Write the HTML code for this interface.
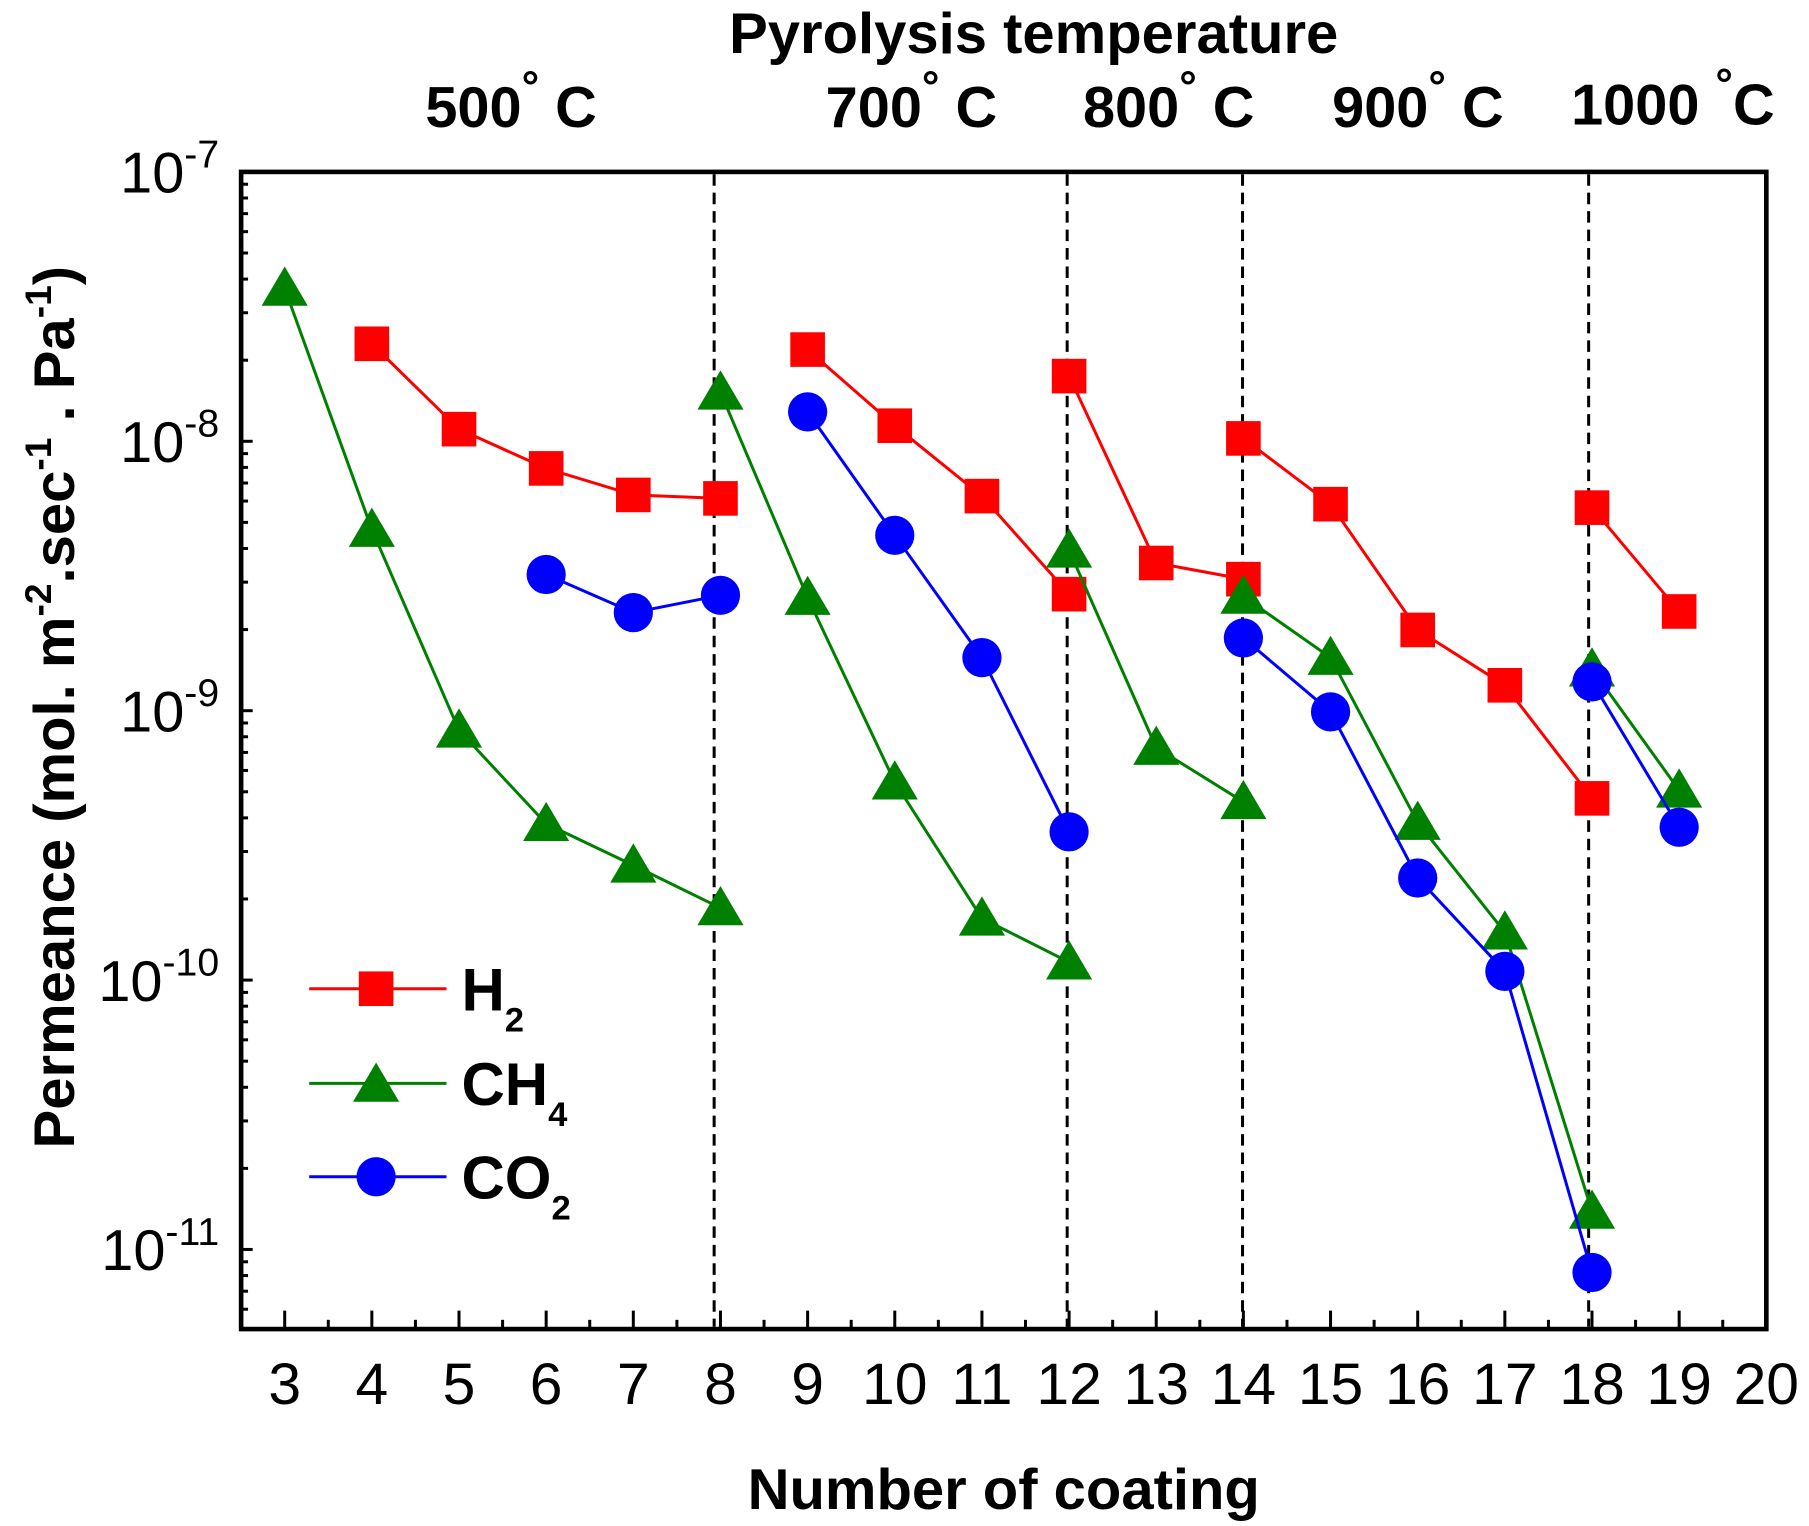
<!DOCTYPE html>
<html><head><meta charset="utf-8"><style>html,body{margin:0;padding:0;background:#fff}svg{display:block}</style></head>
<body>
<svg width="1809" height="1526" viewBox="0 0 1568 1322.7" preserveAspectRatio="none" xmlns="http://www.w3.org/2000/svg" font-family="Liberation Sans, Arial, sans-serif">
<g id="ticks" stroke="#000" stroke-width="2.6" fill="none"></g>
<g stroke="#000" stroke-width="2.6" stroke-dasharray="10,6">
<line x1="619" y1="151" x2="619" y2="1150"/>
<line x1="925" y1="151" x2="925" y2="1150"/>
<line x1="1077" y1="151" x2="1077" y2="1150"/>
<line x1="1377" y1="151" x2="1377" y2="1150"/>
</g>
<g id="series"></g>
<rect x="209" y="149" width="1322" height="1003" fill="none" stroke="#000" stroke-width="4"/>
<g font-size="51" text-anchor="middle" id="xl"></g>
<g font-size="50" text-anchor="end" id="yl"></g>
<g font-weight="bold" font-size="50" text-anchor="middle">
<text x="896" y="46" textLength="528" lengthAdjust="spacingAndGlyphs">Pyrolysis temperature</text>
<text x="443" y="110">500<tspan font-size="38" dy="-22">°</tspan><tspan dy="22"> C</tspan></text>
<text x="790" y="110">700<tspan font-size="38" dy="-22">°</tspan><tspan dy="22"> C</tspan></text>
<text x="1013" y="110">800<tspan font-size="38" dy="-22">°</tspan><tspan dy="22"> C</tspan></text>
<text x="1229" y="110">900<tspan font-size="38" dy="-22">°</tspan><tspan dy="22"> C</tspan></text>
<text x="1450" y="108">1000 <tspan font-size="38" dy="-22">°</tspan><tspan dy="22">C</tspan></text>
<text x="870" y="1308" textLength="444" lengthAdjust="spacingAndGlyphs">Number of coating</text>
<text transform="translate(64,613) rotate(-90)" textLength="765" lengthAdjust="spacingAndGlyphs">Permeance (mol. m<tspan font-size="32" dy="-20">-2</tspan><tspan dy="20">.sec</tspan><tspan font-size="32" dy="-20">-1</tspan><tspan dy="20"> . Pa</tspan><tspan font-size="32" dy="-20">-1</tspan><tspan dy="20">)</tspan></text>
</g>
<g>
<line x1="268" y1="857" x2="387" y2="857" stroke="#f00" stroke-width="2.6"/>
<rect x="311" y="842" width="30" height="30" fill="#f00"/>
<line x1="268" y1="939" x2="387" y2="939" stroke="#008000" stroke-width="2.6"/>
<polygon points="326,921 346,955 306,955" fill="#008000"/>
<line x1="268" y1="1020" x2="387" y2="1020" stroke="#00f" stroke-width="2.6"/>
<circle cx="326" cy="1020" r="17" fill="#00f"/>
<g font-weight="bold" font-size="52">
<text x="400" y="876">H<tspan font-size="30" dy="18">2</tspan></text>
<text x="400" y="958">CH<tspan font-size="30" dy="18">4</tspan></text>
<text x="400" y="1039">CO<tspan font-size="30" dy="18">2</tspan></text>
</g>
</g>
<script>
var NS="http://www.w3.org/2000/svg";
function X(n){return 209+(n-2.5)*75.543;}
function el(p,t,a,txt){var e=document.createElementNS(NS,t);for(var k in a)e.setAttribute(k,a[k]);if(txt!==undefined)e.textContent=txt;p.appendChild(e);return e;}
var tk=document.getElementById('ticks');
for(var n=3;n<=19.6;n+=0.5){var maj=(n%1===0);el(tk,'line',{x1:X(n),x2:X(n),y1:1152,y2:1152-(maj?16:8)});}
var xl=document.getElementById('xl');
for(var n=3;n<=20;n++){el(xl,'text',{x:X(n),y:1217},String(n));}
var yl=document.getElementById('yl');
for(var e=-7;e>=-12;e--){
 for(var m=1;m<10;m++){var y=149+(-7-(e+Math.log10(m)))*233.5; if(y<149||y>1152)continue;
  el(tk,'line',{x1:209,x2:209+(m==1?10:6),y1:y,y2:y});}
}
for(var e=-7;e>=-11;e--){var y=149+(-7-e)*233.5;var t=el(yl,'text',{x:190,y:y+18},'10');
 el(t,'tspan',{'font-size':'34',dy:'-22'},String(e));}
var ser=document.getElementById('series');
var H=[[[4,298],[5,372],[6,406],[7,429],[8,432]],[[9,303],[10,369],[11,430],[12,515]],[[12,326],[13,488],[14,502]],[[14,380],[15,437],[16,546],[17,594],[18,692]],[[18,440],[19,530]]];
var C=[[[3,250],[4,459],[5,633],[6,714],[7,750],[8,787]],[[8,340],[9,518],[10,678],[11,796],[12,834]],[[12,477],[13,648],[14,695]],[[14,517],[15,570],[16,713],[17,808],[18,1050]],[[18,580],[19,685]]];
var O=[[[6,498],[7,531],[8,516]],[[9,357],[10,464],[11,570],[12,721]],[[14,553],[15,617],[16,761],[17,842],[18,1103]],[[18,591],[19,717]]];
function draw(d,col,mk){d.forEach(function(s){el(ser,'polyline',{points:s.map(function(p){return X(p[0])+','+p[1];}).join(' '),fill:'none',stroke:col,'stroke-width':2.6});});
 d.forEach(function(s){s.forEach(function(p){var x=X(p[0]),y=p[1];
  if(mk=='s')el(ser,'rect',{x:x-15,y:y-15,width:30,height:30,fill:col});
  else if(mk=='t')el(ser,'polygon',{points:(x)+','+(y-19)+' '+(x+20)+','+(y+15)+' '+(x-20)+','+(y+15),fill:col});
  else el(ser,'circle',{cx:x,cy:y,r:17,fill:col});});});}
draw(H,'#f00','s');draw(C,'#008000','t');draw(O,'#00f','c');
</script>
</svg>
</body></html>
